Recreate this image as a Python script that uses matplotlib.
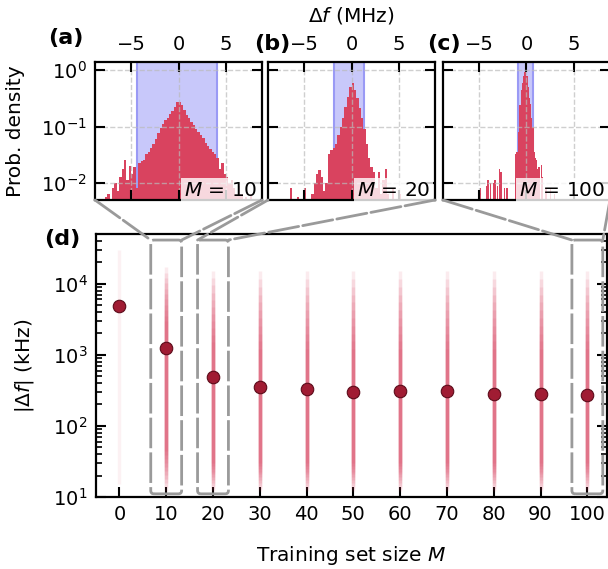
import numpy as np
import matplotlib.pyplot as plt
from matplotlib.patches import ConnectionPatch, FancyBboxPatch
from matplotlib.ticker import NullLocator, LogLocator
import matplotlib.transforms as mtransforms

plt.rcParams['font.family'] = 'DejaVu Sans'
plt.rcParams['mathtext.fontset'] = 'dejavusans'
plt.rcParams['font.size'] = 12

# ---- histogram data (prob. density per bin), panels (a)-(c)
a_start, a_bw = -7.75, 0.25
a_dens = [0.0056, 0.0063, 0, 0.0079, 0.010, 0.0071, 0.0126, 0.0178, 0.025, 0.0112,
          0.020, 0.0141, 0.019, 0.0079, 0.0224, 0.024, 0.026, 0.032, 0.035, 0.042,
          0.050, 0.060, 0.076, 0.095, 0.112, 0.132, 0.141, 0.166, 0.19, 0.224,
          0.27, 0.275, 0.24, 0.20, 0.158, 0.141, 0.12, 0.105, 0.089, 0.079,
          0.071, 0.063, 0.052, 0.045, 0.040, 0.035, 0.032, 0.028, 0.0178, 0.0224,
          0.0141, 0.0126, 0.010, 0.0112, 0.0079, 0.0063, 0.0089, 0.0063, 0, 0.0056,
          0, 0.0063]
b_start, b_bw = -6.5, 0.25
b_dens = [0.0079, 0, 0, 0.0056, 0, 0, 0.0079, 0, 0, 0.0063,
          0.010, 0.0141, 0.0166, 0.0126, 0.0071, 0.010, 0.032, 0.038, 0.042, 0.050,
          0.071, 0.10, 0.141, 0.224, 0.33, 0.50, 0.60, 0.45, 0.32, 0.21,
          0.141, 0.089, 0.050, 0.028, 0.019, 0.0158, 0.0079, 0.0158, 0.0063, 0.0112,
          0.0178, 0.0063, 0, 0.0079, 0, 0, 0.0063]
c_start, c_bw = -5.125, 0.125
c_dens = [0.0063, 0, 0.0079, 0, 0, 0, 0, 0.0089, 0.0112, 0,
          0.010, 0, 0, 0.010, 0.0112, 0, 0.0089, 0, 0.0178, 0.0158,
          0, 0, 0.0079, 0, 0.0079, 0, 0, 0, 0, 0,
          0, 0.032, 0.035, 0.035, 0.079, 0.24, 0.45, 0.60, 0.79, 0.93,
          0.95, 0.79, 0.50, 0.32, 0.25, 0.141, 0.10, 0.035, 0.028, 0.025,
          0.0178, 0.019, 0, 0.021, 0.0126, 0, 0, 0.0079, 0, 0,
          0, 0.0079, 0, 0, 0.0063]
# shaded intervals (MHz)
spans = [(-4.4, 4.1), (-1.8, 1.35), (-0.88, 0.71)]
sizes_zoom = [10, 20, 100]

# ---- panel (d)
M = [0, 10, 20, 30, 40, 50, 60, 70, 80, 90, 100]
median_khz = [4800, 1240, 490, 347, 330, 296, 306, 306, 281, 281, 275]
streak_lo = [15, 12, 12, 12, 12, 12, 12, 12, 12, 12, 12]
streak_hi = [3.0e4, 1.7e4, 1.5e4, 1.5e4, 1.5e4, 1.5e4, 1.5e4, 1.5e4, 1.5e4, 1.5e4, 1.5e4]
core_lo = [15, 45, 30, 30, 30, 30, 30, 30, 30, 30, 30]
core_hi = [3.0e4, 3000, 1500, 1200, 1200, 1200, 1200, 1200, 1200, 1200, 1200]

W, H = 608, 569
fig = plt.figure(figsize=(W / 100, H / 100), dpi=100)

red = '#d9435f'
lefts = [95, 268, 443]
top_axes = []
for k in range(3):
    ax = fig.add_axes([lefts[k] / W, 1 - 200 / H, 167 / W, 138 / H])
    top_axes.append(ax)

hists = [(a_start, a_bw, a_dens), (b_start, b_bw, b_dens), (c_start, c_bw, c_dens)]
for k, ax in enumerate(top_axes):
    start, bw, dens = hists[k]
    edges = start + bw * np.arange(len(dens))
    ax.set_yscale('log')
    ax.axvspan(spans[k][0], spans[k][1], facecolor='#c8c8fa', edgecolor='#9a9af5',
               lw=1.5, zorder=0)
    ax.bar(edges, dens, width=bw, align='edge', bottom=1e-4, color=red, lw=0, zorder=1)
    ax.set_xlim(-8.8, 8.8)
    ax.set_ylim(5e-3, 1.4)
    ax.set_xticks([-5, 0, 5])
    ax.set_yticks([1e-2, 1e-1, 1])
    ax.yaxis.set_minor_locator(NullLocator())
    ax.grid(True, ls='--', color='#bbbbbb', lw=1, alpha=0.7, zorder=2)
    ax.tick_params(axis='both', which='both', direction='in', length=7, width=1.5,
                   top=True, bottom=True, left=True, right=True,
                   labeltop=True, labelbottom=False, pad=6, labelsize=14)
    if k > 0:
        ax.tick_params(labelleft=False)
    for s in ax.spines.values():
        s.set_linewidth(1.6)
    ax.text(0.97, 0.0, r'$M$ = ' + str(sizes_zoom[k]), transform=ax.transAxes,
            ha='right', va='bottom', fontsize=14.5, zorder=5,
            bbox=dict(facecolor='white', alpha=0.8, edgecolor='none', pad=2))

top_axes[0].set_ylabel('Prob. density', fontsize=14.5)
top_axes[0].yaxis.set_label_coords(-0.42, 0.5)
fig.text(351 / W, 1 - 16 / H, r'$\Delta f$ (MHz)', ha='center', va='center', fontsize=14.5)

axd = fig.add_axes([96 / W, 1 - 497 / H, 511 / W, 263 / H])
axd.set_yscale('log')
for i, m in enumerate(M):
    if m == 0:
        axd.vlines(m, streak_lo[i], streak_hi[i], color=red, alpha=0.07, lw=2.5)
        continue
    axd.vlines(m, streak_lo[i], streak_hi[i], color=red, alpha=0.1, lw=2.5)
    # soft gradient from the faint outer range to the dense core
    for f in np.linspace(0.1, 1, 10):
        lo = np.exp(np.log(streak_lo[i]) + f * (np.log(core_lo[i]) - np.log(streak_lo[i])))
        hi = np.exp(np.log(streak_hi[i]) + f * (np.log(core_hi[i]) - np.log(streak_hi[i])))
        axd.vlines(m, lo, hi, color=red, alpha=0.11, lw=2.5)
axd.plot(M, median_khz, 'o', ms=9, color='#a01c33', mec='#5c0b1a', mew=0.8, zorder=5)
axd.set_xlim(-5, 104.2)
axd.set_ylim(10, 5e4)
axd.set_xticks(M)
axd.yaxis.set_major_locator(LogLocator(base=10, numticks=10))
axd.tick_params(axis='both', which='both', direction='in', width=1.5,
                left=True, right=True, top=False, bottom=True, labelsize=14)
axd.tick_params(which='major', length=7, pad=6)
axd.tick_params(which='minor', length=4, width=1.2)
for s in axd.spines.values():
    s.set_linewidth(1.6)
axd.set_xlabel(r'Training set size $M$', fontsize=14.5, labelpad=14)
axd.set_ylabel(r'$|\Delta f|$ (kHz)', fontsize=14.5)
axd.yaxis.set_label_coords(-0.117, 0.5)

# zoom boxes and connectors
blend = mtransforms.blended_transform_factory(axd.transData, axd.transAxes)
gray = '#9a9a9a'
dash = (0, (11, 1.5))
for k, m in enumerate(sizes_zoom):
    x0, x1 = m - 3.3, m + 3.3
    box = FancyBboxPatch((x0, 0.012), x1 - x0, 0.965,
                         boxstyle='round,pad=0,rounding_size=0.7',
                         mutation_aspect=0.0178, transform=blend,
                         fill=False, edgecolor=gray, lw=2, ls=dash, zorder=6)
    axd.add_patch(box)
    for xa, xb in [(0, x0), (1, x1)]:
        con = ConnectionPatch(xyA=(xa, 0), coordsA=top_axes[k].transAxes,
                              xyB=(xb, 0.977), coordsB=blend,
                              color=gray, lw=2, ls=dash, zorder=6)
        fig.add_artist(con)

for lab, x, y in [('(a)', 66, 38), ('(b)', 272, 44), ('(c)', 444, 44), ('(d)', 62, 239)]:
    fig.text(x / W, 1 - y / H, lab, ha='center', va='center', fontsize=16, weight='bold')

fig.savefig('out.png', dpi=100)
